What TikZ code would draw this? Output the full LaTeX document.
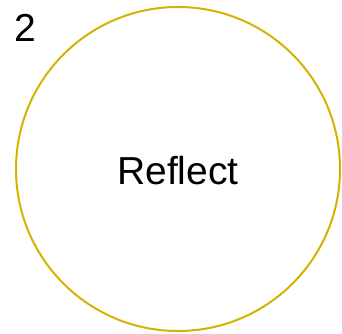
\documentclass[tikz,border=0pt]{standalone}
\usepackage{fontspec}
\setmainfont{Liberation Sans}
\usepackage{xcolor}
\usepackage{tikz}
\definecolor{ringgold}{HTML}{D4B300}
\tikzset{every node/.append style={font=\fontsize{39}{44}\selectfont}}

\begin{document}
\begin{tikzpicture}[x=1pt, y=1pt]
    \useasboundingbox (0,0) rectangle (342,333);
    \draw[ringgold, line width=2pt] (178,164) circle (162);
    \node (step) at (25,305) {2};
    \node (label) at (178,162) {Reflect};
\end{tikzpicture}
\end{document}
